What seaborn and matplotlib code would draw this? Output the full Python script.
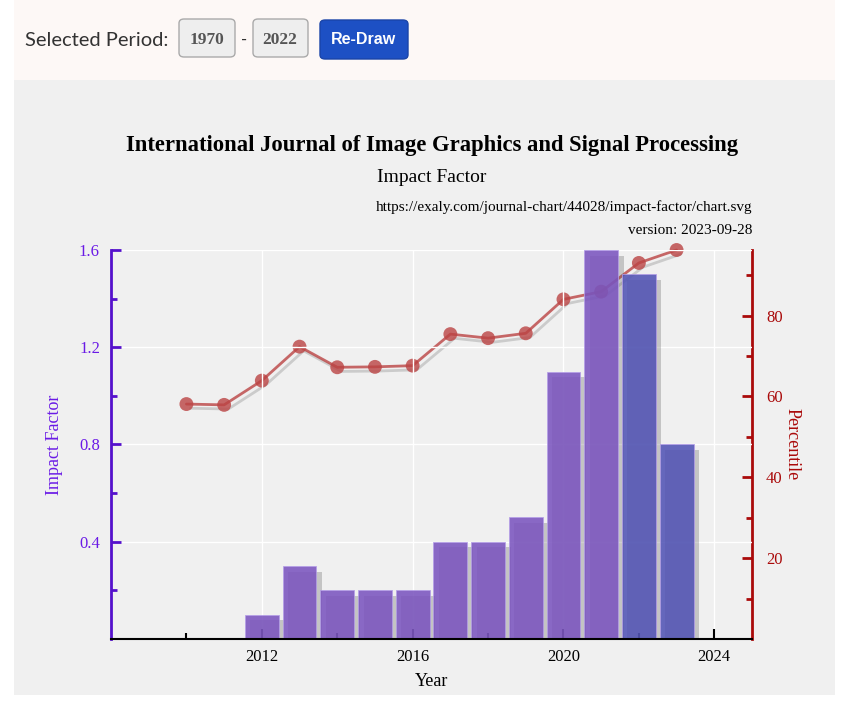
import numpy as np
import pandas as pd
import matplotlib
matplotlib.use('Agg')
import matplotlib.pyplot as plt
import matplotlib.patheffects as pe
from matplotlib.patches import FancyBboxPatch, Rectangle
from matplotlib.ticker import FixedLocator, FormatStrFormatter
import seaborn as sns

# impact factor per year
if_years = [2012, 2013, 2014, 2015, 2016, 2017, 2018, 2019, 2020, 2021, 2022, 2023]
if_values = [0.1, 0.3, 0.2, 0.2, 0.2, 0.4, 0.4, 0.5, 1.1, 1.6, 1.5, 0.8]
if_kind = ['past'] * 10 + ['recent'] * 2

# percentile per year
pct_years = [2010, 2011, 2012, 2013, 2014, 2015, 2016, 2017, 2018, 2019, 2020, 2021, 2022, 2023]
pct_values = [58.1, 57.9, 63.9, 72.3, 67.2, 67.3, 67.6, 75.4, 74.4, 75.6, 84.0, 85.9, 93.0, 96.2]

title = 'International Journal of Image Graphics and Signal Processing'
subtitle = 'Impact Factor'
url = 'https://exaly.com/journal-chart/44028/impact-factor/chart.svg'
version = 'version: 2023-09-28'

PURPLE = '#5511cc'
PURPLE_TXT = '#6a1ae6'
RED = '#aa0a0a'
SERIF = ['Liberation Serif', 'DejaVu Serif']

sns.set_style('white')
plt.rcParams['font.family'] = SERIF
plt.rcParams['text.color'] = 'black'
plt.rcParams['axes.labelcolor'] = 'black'
plt.rcParams['xtick.color'] = 'black'

fig = plt.figure(figsize=(8.5, 7.05), dpi=100)
fig.patch.set_facecolor('white')

# page background pieces
fig.patches.append(Rectangle((14 / 850, 1 - 80 / 705), 821 / 850, 80 / 705,
                             transform=fig.transFigure, facecolor='#fdf8f6', edgecolor='none', zorder=-10))
fig.patches.append(Rectangle((14 / 850, 1 - 695 / 705), 821 / 850, 615 / 705,
                             transform=fig.transFigure, facecolor='#f0f0f0', edgecolor='none', zorder=-10))

# period selector widgets
def px_box(x0, y0, x1, y1, fc, ec):
    fig.patches.append(FancyBboxPatch((x0 / 850, 1 - y1 / 705), (x1 - x0) / 850, (y1 - y0) / 705,
                                      boxstyle='round,pad=0,rounding_size=0.006',
                                      transform=fig.transFigure, facecolor=fc, edgecolor=ec,
                                      linewidth=1, zorder=-5))

px_box(179, 19, 235, 57, '#eeeeee', '#aaaaaa')
px_box(253, 19, 308, 57, '#eeeeee', '#aaaaaa')
px_box(320, 20, 408, 59, '#1d50c4', '#1a44a8')
fig.text(25 / 850, 1 - 41 / 705, 'Selected Period:', fontsize=14.5, color='#333333',
         family=['Lato', 'DejaVu Sans'], va='center', ha='left')
fig.text(207 / 850, 1 - 40 / 705, '1970', fontsize=12.5, color='#555555', weight='bold',
         family=SERIF, va='center', ha='center')
fig.text(244 / 850, 1 - 40 / 705, '-', fontsize=12, color='#333333',
         family=['Lato', 'DejaVu Sans'], va='center', ha='center')
fig.text(280 / 850, 1 - 40 / 705, '2022', fontsize=12.5, color='#555555', weight='bold',
         family=SERIF, va='center', ha='center')
fig.text(364 / 850, 1 - 40 / 705, 'Re-Draw', fontsize=11.5, color='white', weight='bold',
         family=['Liberation Sans', 'DejaVu Sans'], va='center', ha='center')

# titles
fig.text(432 / 850, 1 - 145 / 705, title, fontsize=16.3, weight='bold', ha='center', va='center')
fig.text(432 / 850, 1 - 177 / 705, subtitle, fontsize=14, ha='center', va='center')
fig.text(752 / 850, 1 - 207 / 705, url, fontsize=11, ha='right', va='center')
fig.text(752 / 850, 1 - 231 / 705, version, fontsize=11, ha='right', va='center')

# axes: ax2 (percentile, right) sits under ax (impact factor, left)
ax2 = fig.add_axes([111 / 850, 1 - 639 / 705, 641 / 850, 389 / 705])
ax = ax2.twinx()
ax.set_zorder(ax2.get_zorder() + 1)
ax.patch.set_visible(False)
ax2.set_facecolor('#f0f0f0')
ax.xaxis.set_visible(True)

ax2.yaxis.tick_right()
ax2.yaxis.set_label_position('right')
ax.yaxis.tick_left()
ax.yaxis.set_label_position('left')

pct_df = pd.DataFrame({'year': pct_years, 'percentile': pct_values})
sns.lineplot(data=pct_df, x='year', y='percentile', ax=ax2, color='#bb4444', alpha=0.8,
             linewidth=2, marker='o', markersize=10, markeredgewidth=0,
             path_effects=[pe.SimpleLineShadow(offset=(3, -3), shadow_color='#777777', alpha=0.3),
                           pe.Normal()])
for ln in ax2.lines:
    ln.set_clip_on(False)

if_df = pd.DataFrame({'year': if_years, 'impact': if_values, 'kind': if_kind})
sns.barplot(data=if_df, x='year', y='impact', hue='kind', ax=ax, native_scale=True,
            palette={'past': '#7644d0', 'recent': '#4144c6'}, dodge=False, width=0.9,
            alpha=0.88, legend=False, edgecolor='#b49ee8', linewidth=0.6)
for bar in ax.patches:
    bar.set_path_effects([pe.SimplePatchShadow(offset=(4, -4), shadow_rgbFace='#555555', alpha=0.28),
                          pe.Normal()])

ax.set_xlim(2008, 2025)
ax2.set_xlim(2008, 2025)
ax.set_ylim(0, 1.6)
ax2.set_ylim(0, 96.2)

# grid lines (on the impact axis)
ax.set_axisbelow(True)
ax.xaxis.set_major_locator(FixedLocator([2012, 2016, 2020, 2024]))
ax.xaxis.set_minor_locator(FixedLocator([2010, 2014, 2018, 2022]))
ax.xaxis.set_major_formatter(FormatStrFormatter('%d'))
ax.grid(True, which='major', color='white', linewidth=1)

ax.yaxis.set_major_locator(FixedLocator([0.4, 0.8, 1.2, 1.6]))
ax.yaxis.set_minor_locator(FixedLocator([0.2, 0.6, 1.0, 1.4]))
ax.yaxis.set_major_formatter(FormatStrFormatter('%.1f'))
ax2.yaxis.set_major_locator(FixedLocator([20, 40, 60, 80]))
ax2.yaxis.set_minor_locator(FixedLocator([10, 30, 50, 70, 90]))

ax.tick_params(axis='y', which='major', direction='in', length=7, width=2, color=PURPLE,
               labelcolor=PURPLE_TXT, labelsize=12, pad=8)
ax.tick_params(axis='y', which='minor', direction='in', length=4, width=2, color=PURPLE)
ax.tick_params(axis='x', which='major', direction='in', length=7, width=1.5, color='black',
               labelcolor='black', labelsize=12, pad=7, bottom=True, labelbottom=True)
ax.tick_params(axis='x', which='minor', direction='in', length=4, width=1.5, color='black',
               bottom=True)
ax2.tick_params(axis='y', which='major', direction='in', length=7, width=2, color=RED,
                labelcolor=RED, labelsize=12, pad=10)
ax2.tick_params(axis='y', which='minor', direction='in', length=4, width=2, color=RED)
ax2.tick_params(axis='x', which='both', bottom=False, labelbottom=False)

for a in (ax, ax2):
    for s in a.spines.values():
        s.set_visible(False)
ax.spines['left'].set_visible(True)
ax.spines['left'].set_color(PURPLE)
ax.spines['left'].set_linewidth(2)
ax.spines['bottom'].set_visible(True)
ax.spines['bottom'].set_color('black')
ax.spines['bottom'].set_linewidth(1.5)
ax2.spines['right'].set_visible(True)
ax2.spines['right'].set_color(RED)
ax2.spines['right'].set_linewidth(2)

ax.set_xlabel('Year', fontsize=13, color='black')
ax.xaxis.set_label_coords(0.5, -0.088)
ax.set_ylabel('Impact Factor', fontsize=13, color=PURPLE_TXT)
ax.yaxis.set_label_coords(-0.075, 0.5)
ax2.set_xlabel('')
ax2.set_ylabel('Percentile', fontsize=13, color=RED, rotation=270, va='center')
ax2.yaxis.set_label_coords(1.062, 0.5)

fig.savefig('out.png', dpi=100)
